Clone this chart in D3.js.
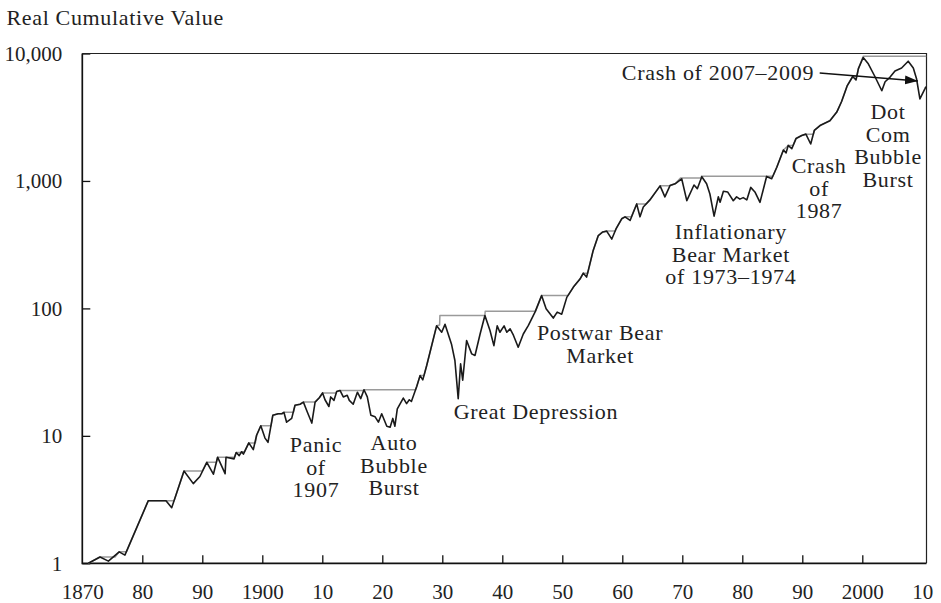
<!DOCTYPE html>
<html>
<head>
<meta charset="utf-8">
<script src="https://cdn.jsdelivr.net/npm/d3@7"></script>
<style>
  html, body { margin:0; padding:0; background:#fff; }
  svg { display:block; }
</style>
</head>
<body>
<div id="chart"></div>
<script>
// real cumulative value (log scale)
const years = [
  1871.0, 1872.95, 1874.35, 1876.15, 1877.1, 1881.0, 1883.95, 1884.9, 1886.95, 1888.5,
  1889.6, 1890.75, 1891.85, 1892.55, 1893.8, 1893.95, 1895.3, 1895.65, 1896.15, 1896.55,
  1896.85, 1897.15, 1897.75, 1898.5, 1899.05, 1899.75, 1900.45, 1900.95, 1901.75, 1902.65,
  1903.25, 1903.6, 1904.05, 1904.9, 1905.45, 1906.3, 1906.85, 1907.5, 1908.25, 1908.8,
  1909.5, 1910.05, 1910.45, 1911.1, 1911.4, 1911.95, 1912.4, 1912.95, 1913.5, 1914.15,
  1914.5, 1915.15, 1915.85, 1916.4, 1916.95, 1917.5, 1918.1, 1918.8, 1919.35, 1919.9,
  1920.75, 1921.3, 1921.75, 1922.1, 1922.5, 1923.5, 1924.05, 1924.5, 1924.85, 1925.75,
  1926.3, 1926.75, 1927.4, 1929.05, 1929.9, 1930.45, 1931.55, 1932.1, 1932.65, 1933.05,
  1933.4, 1934.05, 1934.9, 1935.45, 1936.3, 1937.1, 1937.95, 1938.6, 1939.15, 1939.6,
  1940.3, 1940.75, 1941.3, 1941.85, 1942.65, 1943.5, 1944.35, 1945.45, 1946.55, 1947.3,
  1948.5, 1949.15, 1949.9, 1950.75, 1951.85, 1952.95, 1953.5, 1954.05, 1955.15, 1956.0,
  1956.75, 1957.4, 1958.25, 1958.95, 1959.9, 1960.45, 1961.3, 1962.4, 1962.95, 1963.5,
  1964.6, 1966.3, 1967.1, 1967.95, 1968.8, 1969.9, 1970.75, 1971.95, 1972.5, 1973.25,
  1974.05, 1974.6, 1975.3, 1976.0, 1976.3, 1976.85, 1977.55, 1978.5, 1979.05, 1979.6,
  1980.15, 1980.75, 1981.4, 1982.1, 1982.95, 1984.05, 1984.9, 1985.75, 1986.85, 1987.3,
  1987.65, 1988.25, 1988.95, 1989.9, 1990.6, 1991.4, 1992.0, 1992.95, 1994.6, 1995.75,
  1996.55, 1997.5, 1998.4, 1998.95, 1999.35, 2000.15, 2001.0, 2002.1, 2003.25, 2003.8,
  2004.6, 2005.45, 2006.55, 2007.65, 2008.5, 2009.05, 2009.6, 2010.45, 2010.6
];
const realValue = [
  1.0, 1.12, 1.04, 1.23, 1.16, 3.1, 3.1, 2.73, 5.3, 4.22,
  4.8, 6.2, 5.0, 6.8, 5.05, 6.8, 6.6, 7.4, 7.0, 7.5,
  7.2, 7.7, 8.8, 7.8, 10.1, 12.0, 9.6, 8.9, 14.5, 14.9,
  14.9, 15.3, 12.8, 13.7, 17.4, 17.7, 18.4, 15.4, 12.6, 18.4,
  19.9, 21.7, 19.2, 17.0, 20.2, 19.0, 22.3, 22.7, 20.2, 20.8,
  19.0, 17.7, 22.0, 19.6, 23.0, 20.2, 14.5, 14.1, 12.8, 14.9,
  11.9, 11.7, 13.7, 11.9, 16.3, 19.8, 17.9, 19.2, 18.6, 24.5,
  29.7, 27.5, 35.6, 73, 65, 75, 52, 39, 19.6, 36.8,
  27.3, 56, 44, 42.7, 63, 88, 67, 51, 73, 65,
  73, 65, 69, 61.6, 49.6, 63, 73.6, 93.5, 126, 99.5,
  84, 93.5, 90, 122, 147, 170, 189, 176, 285, 373,
  398, 404, 350, 420, 505, 523, 490, 660, 523, 625,
  710, 915, 750, 920, 950, 1040, 700, 930, 870, 1080,
  950, 790, 530, 750, 680, 830, 820, 700, 750, 720,
  740, 710, 890, 820, 680, 1085, 1040, 1280, 1750, 1660,
  1900, 1790, 2150, 2270, 2330, 1950, 2490, 2720, 2970, 3470,
  4200, 5600, 6600, 6200, 7600, 9300, 8300, 6600, 5100, 6000,
  6500, 7300, 7700, 8700, 7700, 6300, 4400, 5300, 5500
];

// previous peak (grey high-water line), corner points
const peakYears = [
  1871.0, 1872.95, 1875.45, 1876.15, 1877.35, 1881.0, 1885.3, 1886.95, 1890.0, 1890.75,
  1892.35, 1892.55, 1895.35, 1895.65, 1896.45, 1896.55, 1897.05, 1897.15, 1897.75, 1898.85,
  1899.05, 1899.75, 1901.45, 1901.75, 1902.65, 1903.25, 1903.6, 1905.2, 1905.45, 1906.3,
  1906.85, 1908.8, 1909.5, 1910.05, 1912.3, 1912.4, 1912.95, 1916.85, 1916.95, 1925.55,
  1925.75, 1926.3, 1926.95, 1927.4, 1929.05, 1929.55, 1929.6, 1937.1, 1937.15, 1945.55,
  1946.55, 1950.95, 1951.85, 1952.95, 1953.5, 1954.25, 1955.15, 1956.0, 1956.75, 1957.4,
  1958.8, 1958.95, 1959.9, 1960.45, 1961.5, 1962.4, 1964.0, 1964.6, 1966.3, 1967.85,
  1967.95, 1968.8, 1969.7, 1973.15, 1973.2, 1985.1, 1985.75, 1986.85, 1987.65, 1988.45,
  1988.95, 1989.9, 1990.6, 1991.85, 1992.0, 1992.95, 1994.6, 1995.75, 1996.55, 1997.5,
  1998.4, 1999.1, 1999.35, 2000.15, 2010.65
];
const peakValue = [
  1.0, 1.12, 1.12, 1.23, 1.23, 3.1, 3.1, 5.3, 5.3, 6.2,
  6.2, 6.8, 6.8, 7.4, 7.4, 7.5, 7.5, 7.7, 8.8, 8.8,
  10.1, 12.0, 12.0, 14.5, 14.9, 14.9, 15.3, 15.3, 17.4, 17.7,
  18.4, 18.4, 19.9, 21.7, 21.7, 22.3, 22.7, 22.7, 23.0, 23.0,
  24.5, 29.7, 29.7, 35.6, 73, 74, 88, 88, 95, 95,
  126, 126, 147, 170, 189, 189, 285, 373, 398, 404,
  404, 420, 505, 523, 523, 660, 660, 710, 915, 915,
  920, 950, 1055, 1055, 1090, 1090, 1280, 1750, 1900, 1900,
  2150, 2270, 2330, 2330, 2490, 2720, 2970, 3470, 4200, 5600,
  6600, 6600, 7600, 9500, 9500
];

const yTicks = [1, 10, 100, 1000, 10000];
const xTicks = [1870, 1880, 1890, 1900, 1910, 1920, 1930, 1940, 1950, 1960, 1970, 1980, 1990, 2000, 2010];
const xTickLabels = ["1870", "80", "90", "1900", "10", "20", "30", "40", "50", "60", "70", "80", "90", "2000", "10"];

// annotations: anchor (year, value) of the first line's baseline
const noteLines = [
  ["Panic", "of", "1907"],
  ["Auto", "Bubble", "Burst"],
  ["Great Depression"],
  ["Postwar Bear", "Market"],
  ["Inflationary", "Bear Market", "of 1973\u20131974"],
  ["Crash", "of", "1987"],
  ["Dot", "Com", "Bubble", "Burst"],
  ["Crash of 2007\u20132009"]
];
const noteYear  = [1908.95, 1921.95, 1945.6, 1956.3, 1978.1, 1992.8, 2004.3, 1975.95];
const noteValue = [7.47, 7.74, 13.6, 56.5, 350, 1154, 3060, 6140];
const arrowFrom = [1992.9, 7030];
const arrowTo   = [2009.27, 6080];

const FONT = '"Liberation Serif"';
const W = 941, H = 603;

const svg = d3.select("#chart")
  .append("svg")
  .attr("width", W)
  .attr("height", H)
  .style("font-family", FONT);

const x = d3.scaleLinear().domain([1870, 2010.7]).range([82.3, 926.5]);
const y = d3.scaleLog().domain([1, 10000]).range([563.3, 53.5]);

const x0 = x(1870), x1 = x(2010.7), yTop = y(10000), yBot = y(1);

// title
svg.append("text")
  .attr("x", 6.5)
  .attr("y", 24.5)
  .style("font-family", FONT)
  .style("font-size", "22px")
  .style("letter-spacing", "0.65px")
  .style("fill", "#222")
  .text("Real Cumulative Value");

// y axis
const yAxis = svg.append("g")
  .attr("transform", `translate(${x0},0)`)
  .call(d3.axisLeft(y)
    .tickValues(yTicks)
    .tickFormat(d3.format(","))
    .tickSizeInner(-8)
    .tickSizeOuter(0)
    .tickPadding(20));
yAxis.select(".domain").remove();
yAxis.selectAll(".tick line").attr("stroke", "#111").attr("stroke-width", 1.3);
yAxis.selectAll("text")
  .style("font-family", FONT)
  .style("font-size", "21px")
  .style("fill", "#222");

// x axis
const xAxis = svg.append("g")
  .attr("transform", `translate(0,${yBot})`)
  .call(d3.axisBottom(x)
    .tickValues(xTicks)
    .tickFormat((d, i) => xTickLabels[i])
    .tickSizeInner(-8)
    .tickSizeOuter(0)
    .tickPadding(21));
xAxis.select(".domain").remove();
xAxis.selectAll(".tick line")
  .attr("stroke", "#111")
  .attr("stroke-width", 1.3)
  .attr("opacity", d => (d === 1870 || d === 2010) ? 0 : 1);
xAxis.selectAll("text")
  .style("font-family", FONT)
  .style("font-size", "21px")
  .style("fill", "#222");

// frame
svg.append("path")
  .attr("d", `M${x0},${yTop}H${x1}V${yBot}`)
  .attr("fill", "none")
  .attr("stroke", "#222")
  .attr("stroke-width", 1.2);
svg.append("path")
  .attr("d", `M${x0},${yTop}V${yBot}H${x1}`)
  .attr("fill", "none")
  .attr("stroke", "#111")
  .attr("stroke-width", 1.7);

// lines
const peakData = peakYears.map((yr, i) => [yr, peakValue[i]]);
const realData = years.map((yr, i) => [yr, realValue[i]]);

const line = d3.line()
  .x(d => x(d[0]))
  .y(d => y(d[1]));

svg.append("path")
  .datum(peakData)
  .attr("d", line)
  .attr("fill", "none")
  .attr("stroke", "#9a9a9a")
  .attr("stroke-width", 1.5)
  .attr("stroke-linejoin", "round");

svg.append("path")
  .datum(realData)
  .attr("d", line)
  .attr("fill", "none")
  .attr("stroke", "#1a1a1a")
  .attr("stroke-width", 1.6)
  .attr("stroke-linejoin", "round");

// annotations
const notes = svg.append("g")
  .attr("text-anchor", "middle");

noteLines.forEach((lines, i) => {
  const t = notes.append("text")
    .attr("x", x(noteYear[i]))
    .attr("y", y(noteValue[i]))
    .style("font-family", FONT)
    .style("font-size", "22px")
    .style("letter-spacing", "0.7px")
    .style("fill", "#222");
  lines.forEach((s, j) => {
    t.append("tspan")
      .attr("x", x(noteYear[i]))
      .attr("dy", j === 0 ? 0 : 22.7)
      .text(s);
  });
});

// arrow for the 2007-2009 crash
svg.append("defs").append("marker")
  .attr("id", "arrow")
  .attr("viewBox", "0 -5 13 10")
  .attr("refX", 13)
  .attr("refY", 0)
  .attr("markerUnits", "userSpaceOnUse")
  .attr("markerWidth", 13)
  .attr("markerHeight", 10)
  .attr("orient", "auto")
  .append("path")
  .attr("d", "M0,-4.5L13,0L0,4.5Z")
  .attr("fill", "#111");

svg.append("line")
  .attr("x1", x(arrowFrom[0]))
  .attr("y1", y(arrowFrom[1]))
  .attr("x2", x(arrowTo[0]))
  .attr("y2", y(arrowTo[1]))
  .attr("stroke", "#111")
  .attr("stroke-width", 1.5)
  .attr("marker-end", "url(#arrow)");
</script>
</body>
</html>
